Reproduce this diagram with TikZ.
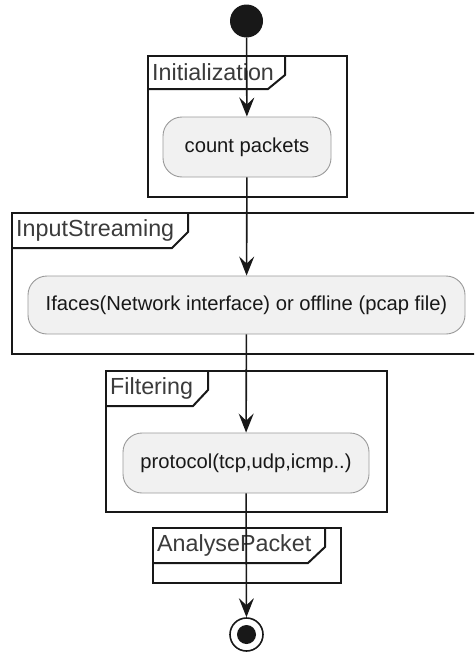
\documentclass[tikz,border=0pt]{standalone}
\usepackage{fontspec}
\setmainfont{Liberation Sans}
\usetikzlibrary{arrows.meta}

\definecolor{ink}{HTML}{181818}
\definecolor{actfill}{HTML}{F1F1F1}
\definecolor{actline}{HTML}{9A9A9A}

\tikzset{
  frameline/.style={draw=ink, line width=2pt},
  framelabel/.style={anchor=west, inner sep=0pt, text=ink!85, font=\fontsize{23.3}{26}\selectfont},
  activity/.style={draw=actline, fill=actfill, line width=0.9pt, rounded corners=19pt},
  acttext/.style={inner sep=0pt, text=ink, font=\fontsize{20.2}{23}\selectfont},
  flow/.style={draw=ink, line width=1.6pt, -{Stealth[length=19pt, width=15pt, inset=7pt]}},
}

\begin{document}
\begin{tikzpicture}[x=1pt, y=-1pt]
\clip (0,0) rectangle (474,653);
\fill[white] (0,0) rectangle (474,653);

% partition frames with their title tabs
\draw[frameline] (148,56) rectangle (347,197);
\draw[frameline] (148,89) -- (268,89) -- (285,75) -- (285,56);
\node[framelabel] (lInit) at (152,72.5) {Initialization};

\draw[frameline] (12,213) rectangle (490,354);
\draw[frameline] (12,248) -- (172,248) -- (188,232) -- (188,213);
\node[framelabel] (lInput) at (16,230.5) {InputStreaming};

\draw[frameline] (106,371) rectangle (387,512);
\draw[frameline] (106,406) -- (193,406) -- (208,390) -- (208,371);
\node[framelabel] (lFilter) at (110,388.5) {Filtering};

\draw[frameline] (153,528) rectangle (341,583);
\draw[frameline] (153,563) -- (308,563) -- (325,547) -- (325,528);
\node[framelabel] (lAnalyse) at (157,545.5) {AnalysePacket};

% activities
\node[activity, minimum width=168pt, minimum height=60pt] (count) at (247,147) {};
\node[acttext] at (count.center) {count packets};

\node[activity, minimum width=437pt, minimum height=58pt] (iface) at (246.5,305) {};
\node[acttext] at (iface.center) {Ifaces(Network interface) or offline (pcap file)};

\node[activity, minimum width=246pt, minimum height=60pt] (proto) at (246,463) {};
\node[acttext] at (proto.center) {protocol(tcp,udp,icmp..)};

% start and stop
\node[circle, fill=ink, minimum size=33pt, inner sep=0pt] (start) at (246.5,21) {};
\node[circle, draw=ink, line width=1.6pt, fill=white, minimum size=33pt, inner sep=0pt] (stop) at (246.5,634.5) {};
\fill[ink] (stop.center) circle (9.5pt);

% control flow
\draw[flow] (start) -- (count);
\draw[flow] (count) -- (iface);
\draw[flow] (iface) -- (proto);
\draw[flow] (proto) -- (stop);
\end{tikzpicture}
\end{document}
